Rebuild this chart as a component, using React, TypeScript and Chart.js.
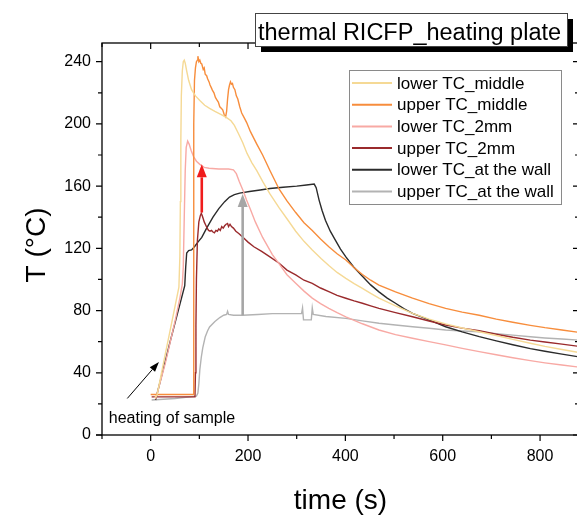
import { useEffect, useRef } from 'react';
import { Chart, registerables } from 'chart.js';

Chart.register(...registerables);

const FONT = '"Liberation Sans", Arial, sans-serif';

const seriesLabels = [
  'lower TC_middle',
  'upper TC_middle',
  'lower TC_2mm',
  'upper TC_2mm',
  'lower TC_at the wall',
  'upper TC_at the wall',
];
const seriesColors = ['#f5d995', '#f78d3c', '#f8a9a4', '#9a2a2c', '#2b2b2b', '#b3b3b3'];

// [time (s), temperature (°C)]
const lowerMiddle: [number, number][] = [
  [8, 24], [13, 25.5], [30, 52], [45, 75], [58, 95], [60, 115], [61, 150], [62, 190], [63, 218], [65, 234],
  [67, 240], [69, 241], [71, 239], [74, 234], [78, 228], [84, 222], [92, 218], [101, 215], [111, 212], [121, 210],
  [132, 208], [145, 206], [156, 204], [165, 202], [172, 199], [180, 194], [189, 188], [198, 181], [208, 175], [218, 170],
  [230, 163], [245, 155], [264, 146], [280, 139], [298, 131], [315, 124.5], [332, 119], [350, 113.5], [366, 109], [383, 104.5],
  [401, 100.7], [418, 97.3], [435, 94.3], [452, 91], [469, 88], [503, 83], [538, 78.2], [572, 74.5], [606, 71.4], [640, 68.8],
  [675, 66.4], [710, 64], [744, 61.5], [780, 59], [810, 57], [845, 55], [880, 53],
];
const upperMiddle: [number, number][] = [
  [0, 26], [87, 26], [88, 110], [89, 200], [90, 228], [92, 236], [94, 240], [96, 241], [97, 243.5], [99, 240],
  [101, 241], [103, 239], [105, 238.5], [108, 235], [110, 236], [112, 232], [115, 231], [117, 229], [120, 227], [122, 225],
  [125, 223], [127, 221.5], [130, 220], [133, 217], [136, 215.5], [139, 214], [142, 211], [145, 210], [148, 209], [151, 206],
  [154, 204.5], [156, 208], [158, 216], [160, 222], [162, 225], [164, 227], [166, 225.5], [168, 226], [170, 223.5], [173, 222],
  [176, 218], [179, 216], [183, 211], [187, 207], [192, 204], [197, 201], [205, 195], [218, 187], [230, 180], [245, 170],
  [264, 158], [280, 150.5], [298, 143], [315, 136.5], [332, 131.5], [349, 126], [366, 121], [383, 116.5], [401, 112.5], [418, 107.5],
  [435, 103.2], [452, 99.5], [469, 96.4], [503, 92], [538, 88], [572, 84.5], [606, 81.4], [640, 79], [675, 77], [710, 74.5],
  [744, 72.5], [780, 70.5], [810, 69], [845, 67.5], [880, 66],
];
const lower2mm: [number, number][] = [
  [10, 23], [30, 46], [50, 73], [60, 88], [65, 97], [67, 108], [69, 140], [71, 170], [73, 185], [76, 189],
  [79, 187], [83, 183], [88, 179], [94, 176], [101, 174], [110, 172], [120, 171.5], [140, 171], [160, 171], [170, 170.5],
  [176, 168], [182, 163], [190, 157], [197, 151], [205, 145], [215, 137], [230, 127], [250, 116], [264, 110], [280, 103],
  [298, 97.5], [315, 92.5], [332, 88], [349, 84.5], [366, 81.4], [383, 78.6], [401, 76], [435, 71.5], [469, 67.5], [503, 64.5],
  [538, 62.2], [572, 60], [606, 57.9], [640, 55.7], [675, 53.6], [710, 51.6], [744, 49.7], [780, 47.8], [810, 46.4], [845, 45],
  [880, 43.6],
];
const upper2mm: [number, number][] = [
  [2, 24.5], [91, 24.5], [92, 40], [93, 70], [94, 100], [96, 125], [99, 137], [102, 141], [104, 142.5], [106, 141],
  [108, 139], [110, 137], [113, 135], [116, 133], [119, 131.5], [122, 131], [125, 131.5], [128, 130.5], [131, 130], [134, 131.5],
  [137, 131], [140, 132.5], [143, 131.5], [146, 134], [149, 133], [152, 134.5], [155, 135.5], [158, 136], [160, 134], [163, 135.5],
  [166, 134], [170, 133], [175, 131], [181, 129.5], [190, 127], [200, 124], [212, 121], [228, 118], [245, 114.5], [264, 110.4],
  [280, 106], [298, 102.9], [315, 99.5], [332, 97.5], [349, 94.5], [366, 92.1], [383, 89.8], [401, 87.9], [418, 86.2], [435, 84.7],
  [452, 83], [469, 81.4], [503, 78.7], [538, 76], [572, 73.3], [606, 70.7], [640, 68.7], [675, 67], [710, 64.8], [744, 62.8],
  [780, 61], [810, 59.8], [845, 58.4], [880, 57],
];
const lowerWall: [number, number][] = [
  [10, 22.5], [40, 60], [70, 96], [72, 108], [74, 117], [78, 118.5], [84, 119], [90, 121], [97, 124], [105, 127],
  [115, 133], [128, 140], [140, 145.5], [152, 150], [162, 153], [172, 154.5], [183, 155.5], [203, 156.5], [225, 157.5], [245, 158.5],
  [272, 159.3], [300, 160], [320, 160.7], [336, 161.3], [340, 159], [346, 151], [352, 144.5], [359, 138], [369, 131], [380, 125],
  [390, 119.5], [401, 114.5], [417, 108], [435, 102], [452, 96.5], [469, 92], [486, 88], [503, 84.7], [520, 81.2], [538, 78.2],
  [572, 74], [606, 69.6], [640, 66.3], [675, 63.2], [710, 60.5], [744, 58], [780, 55.5], [810, 53.8], [845, 52], [880, 50.2],
];
const upperWall: [number, number][] = [
  [2, 22.5], [50, 23.5], [94, 25], [97, 27], [99, 33], [101, 42], [104, 50], [107, 56], [112, 63], [117, 67],
  [121, 69.5], [132, 73], [142, 75.5], [150, 77], [156, 77.5], [158, 79.5], [160, 77.5], [170, 77], [189, 77], [220, 77.5],
  [250, 78], [280, 78], [310, 78], [312, 81.6], [314, 74], [330, 74], [332, 81.6], [334, 77.5], [360, 76.2], [401, 75],
  [435, 73.4], [469, 71.8], [503, 70.7], [538, 69.6], [572, 68.6], [606, 67.5], [640, 66.9], [675, 66.4], [710, 65.2], [744, 64.2],
  [780, 63.2], [810, 62.4], [845, 61.7], [880, 61],
];
const allSeries = [lowerMiddle, upperMiddle, lower2mm, upper2mm, lowerWall, upperWall];

const xRange = [-100, 880];
const yRange = [0, 252];
const xTickLabels = [0, 200, 400, 600, 800];
const yTickLabels = [0, 40, 80, 120, 160, 200, 240];
const xMinorStep = 100;
const yMinorStep = 20;

const chartTitle = 'thermal RICFP_heating plate';
const xTitle = 'time (s)';
const yTitle = 'T (°C)';

// annotations in data coordinates
const redArrow: [number, number][] = [[105, 143], [105, 174]];
const grayArrow: [number, number][] = [[189, 77], [189, 155]];
const blackArrow: [number, number][] = [[-48, 23.5], [17, 47]];
const noteText = 'heating of sample';
const notePos: [number, number] = [-86, 8];

function drawArrow(ctx: CanvasRenderingContext2D, x1: number, y1: number, x2: number, y2: number,
  color: string, lw: number, headLen: number, headW: number) {
  const ang = Math.atan2(y2 - y1, x2 - x1);
  const bx = x2 - Math.cos(ang) * headLen;
  const by = y2 - Math.sin(ang) * headLen;
  ctx.save();
  ctx.strokeStyle = color;
  ctx.fillStyle = color;
  ctx.lineWidth = lw;
  ctx.beginPath();
  ctx.moveTo(x1, y1);
  ctx.lineTo(bx, by);
  ctx.stroke();
  const px = -Math.sin(ang) * headW / 2;
  const py = Math.cos(ang) * headW / 2;
  ctx.beginPath();
  ctx.moveTo(x2, y2);
  ctx.lineTo(bx + px, by + py);
  ctx.lineTo(bx - px, by - py);
  ctx.closePath();
  ctx.fill();
  ctx.restore();
}

const decorPlugin = {
  id: 'decor',
  afterDatasetsDraw(chart: any) {
    const { ctx, chartArea } = chart;
    const xs = chart.scales.x;
    const ys = chart.scales.y;
    const { left, right, top, bottom } = chartArea;
    ctx.save();
    // frame
    ctx.strokeStyle = '#000';
    ctx.lineWidth = 1.3;
    ctx.strokeRect(left, top, right - left, bottom - top);
    ctx.beginPath();
    ctx.moveTo(left - 6, bottom);
    ctx.lineTo(left, bottom);
    ctx.stroke();
    // ticks
    ctx.lineWidth = 1.2;
    ctx.beginPath();
    for (let v = xRange[0]; v <= xRange[1]; v += xMinorStep) {
      const px = xs.getPixelForValue(v);
      const len = xTickLabels.includes(v) ? 6 : 4;
      ctx.moveTo(px, bottom);
      ctx.lineTo(px, bottom + len);
      ctx.moveTo(px, top);
      ctx.lineTo(px, top + len);
    }
    for (let v = yRange[0]; v <= yRange[1]; v += yMinorStep) {
      const py = ys.getPixelForValue(v);
      const len = yTickLabels.includes(v) ? 6 : 4;
      ctx.moveTo(left - len, py);
      ctx.lineTo(left, py);
      ctx.moveTo(right - len, py);
      ctx.lineTo(right, py);
    }
    ctx.stroke();
    // arrows
    const P = (p: [number, number]) => [xs.getPixelForValue(p[0]), ys.getPixelForValue(p[1])];
    let a = P(redArrow[0]), b = P(redArrow[1]);
    drawArrow(ctx, a[0], a[1], b[0], b[1], '#f01c1c', 2.6, 13, 10);
    a = P(grayArrow[0]); b = P(grayArrow[1]);
    drawArrow(ctx, a[0], a[1], b[0], b[1], '#a6a6a6', 2.6, 13, 10);
    a = P(blackArrow[0]); b = P(blackArrow[1]);
    drawArrow(ctx, a[0], a[1], b[0], b[1], '#000', 1, 10, 7);
    // note
    const n = P(notePos);
    ctx.fillStyle = '#000';
    ctx.font = `16px ${FONT}`;
    ctx.textAlign = 'left';
    ctx.textBaseline = 'alphabetic';
    ctx.fillText(noteText, n[0], n[1]);
    // y axis title
    ctx.save();
    ctx.translate(37, (top + bottom) / 2 + 6);
    ctx.rotate(-Math.PI / 2);
    ctx.font = `28px ${FONT}`;
    ctx.textAlign = 'center';
    ctx.textBaseline = 'middle';
    ctx.fillText(yTitle, 0, 0);
    ctx.restore();
    ctx.restore();
  },
  afterDraw(chart: any) {
    const { ctx } = chart;
    ctx.save();
    // legend
    const lx = 349, ly = 70, lw = 212, lh = 134;
    ctx.fillStyle = '#fff';
    ctx.fillRect(lx, ly, lw, lh);
    ctx.strokeStyle = '#8a8a8a';
    ctx.lineWidth = 1;
    ctx.strokeRect(lx + 0.5, ly + 0.5, lw, lh);
    ctx.font = `17px ${FONT}`;
    ctx.textAlign = 'left';
    ctx.textBaseline = 'middle';
    chart.data.datasets.forEach((ds: any, i: number) => {
      const y = ly + 13 + i * 21.7;
      ctx.strokeStyle = ds.borderColor;
      ctx.lineWidth = 2;
      ctx.beginPath();
      ctx.moveTo(lx + 3, y);
      ctx.lineTo(lx + 43, y);
      ctx.stroke();
      ctx.fillStyle = '#000';
      ctx.fillText(ds.label, lx + 48, y + 1);
    });
    // title box with shadow
    const tx = 255, ty = 13, tw = 312, th = 33;
    ctx.fillStyle = '#000';
    ctx.fillRect(tx + 6, ty + 6, tw, th);
    ctx.fillStyle = '#fff';
    ctx.fillRect(tx, ty, tw, th);
    ctx.strokeStyle = '#444';
    ctx.lineWidth = 1;
    ctx.strokeRect(tx + 0.5, ty + 0.5, tw, th);
    ctx.fillStyle = '#000';
    ctx.font = `23.5px ${FONT}`;
    ctx.textBaseline = 'alphabetic';
    ctx.fillText(chartTitle, tx + 3, ty + 27);
    ctx.restore();
  },
};

export default function App() {
  const ref = useRef<HTMLCanvasElement>(null);
  useEffect(() => {
    if (!ref.current) return;
    Chart.defaults.font.family = FONT;
    const chart = new Chart(ref.current, {
      type: 'line',
      data: {
        datasets: allSeries.map((pts, i) => ({
          label: seriesLabels[i],
          data: pts.map(([x, y]) => ({ x, y })),
          borderColor: seriesColors[i],
          backgroundColor: seriesColors[i],
          borderWidth: 1.4,
          pointRadius: 0,
          tension: 0,
          fill: false,
        })),
      },
      options: {
        animation: false,
        responsive: false,
        events: [],
        layout: { padding: { left: 0, right: 3, top: 43, bottom: 0 } },
        plugins: {
          legend: { display: false },
          tooltip: { enabled: false },
          title: { display: false },
        },
        scales: {
          x: {
            type: 'linear',
            min: xRange[0],
            max: xRange[1],
            grid: { display: false, drawTicks: false },
            border: { display: false },
            afterBuildTicks: (s: any) => { s.ticks = xTickLabels.map((v) => ({ value: v })); },
            afterFit: (s: any) => { s.height = 80; },
            ticks: { autoSkip: false, maxRotation: 0, padding: 12, color: '#000', font: { size: 16 } },
            title: { display: true, text: xTitle, color: '#000', font: { size: 28, lineHeight: 1 }, padding: { top: 0, bottom: 0 } },
          },
          y: {
            type: 'linear',
            min: yRange[0],
            max: yRange[1],
            grid: { display: false, drawTicks: false },
            border: { display: false },
            afterBuildTicks: (s: any) => { s.ticks = yTickLabels.map((v) => ({ value: v })); },
            afterFit: (s: any) => { s.width = 102; },
            ticks: { autoSkip: false, padding: 11, color: '#000', font: { size: 16 } },
            title: { display: false, text: yTitle },
          },
        },
      },
      plugins: [decorPlugin],
    });
    return () => chart.destroy();
  }, []);
  return (
    <div style={{ position: 'absolute', left: 0, top: 0, width: 577, height: 515, overflow: 'hidden', background: '#fff' }}>
      <canvas ref={ref} width={582} height={515} style={{ display: 'block' }} />
    </div>
  );
}
